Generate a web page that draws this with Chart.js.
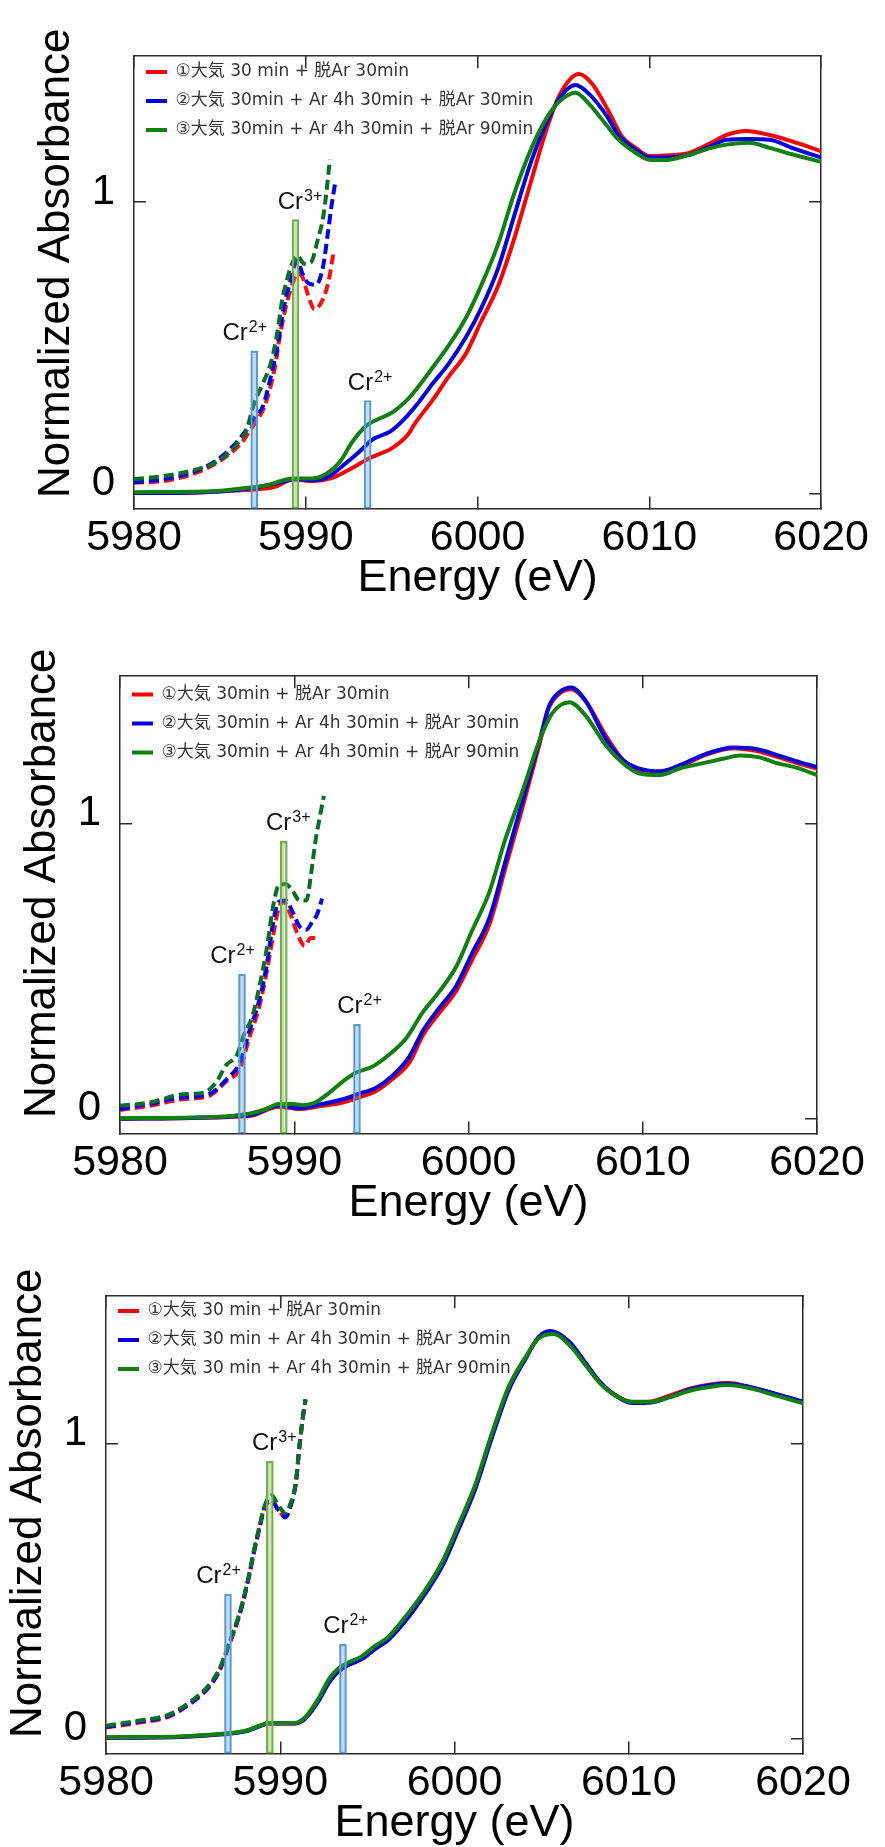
<!DOCTYPE html>
<html>
<head>
<meta charset="utf-8">
<script src="https://cdn.jsdelivr.net/npm/chart.js@4.4.1/dist/chart.umd.min.js"></script>
<style>
  html, body { margin: 0; padding: 0; background: #fff; overflow: hidden; }
  canvas { display: block; position: absolute; left: 0; }
</style>
</head>
<body>
<canvas id="c1" width="885" height="620" style="top:0"></canvas>
<canvas id="c2" width="885" height="620" style="top:620px"></canvas>
<canvas id="c3" width="885" height="620" style="top:1240px"></canvas>
<script>
// axes
const xTicks = [5980, 5990, 6000, 6010, 6020];
const yTicks = [0, 1];

// reference lines (same in all three panels)
const barEnergy = [5987.0, 5989.4, 5993.6];
const barTop = [0.49, 0.94, 0.32];
const barIon = ['2+', '3+', '2+'];

// panel 1
const legend1 = ['①大気 30 min + 脱Ar 30min', '②大気 30min + Ar 4h 30min + 脱Ar 30min', '③大気 30min + Ar 4h 30min + 脱Ar 90min'];
const red1 = [[5980,0.003],[5984,0.006],[5986.5,0.013],[5988.2,0.024],[5989.3,0.05],[5990.4,0.044],[5991.6,0.056],[5992.7,0.089],[5993.7,0.122],[5995,0.156],[5995.9,0.2],[5996.4,0.245],[5997.4,0.323],[5998.3,0.401],[5999.3,0.479],[6000.2,0.59],[6001.2,0.713],[6002.1,0.869],[6003.1,1.069],[6004,1.247],[6004.8,1.37],[6005.9,1.439],[6006.7,1.403],[6007.7,1.303],[6008.4,1.225],[6009.2,1.186],[6010,1.158],[6010.9,1.16],[6012.2,1.167],[6013.6,1.203],[6014.5,1.23],[6015.6,1.244],[6017,1.23],[6018.3,1.208],[6020,1.175]];
const blue1 = [[5980,0.003],[5984,0.006],[5986.5,0.017],[5988.5,0.039],[5989.3,0.05],[5990.6,0.047],[5991.4,0.061],[5992.1,0.094],[5993.1,0.144],[5993.9,0.187],[5995,0.217],[5995.9,0.267],[5996.4,0.301],[5997.4,0.379],[5998.3,0.445],[5999.3,0.535],[6000.2,0.635],[6001.2,0.774],[6002.1,0.947],[6003.1,1.136],[6004,1.27],[6004.8,1.359],[6005.7,1.401],[6006.5,1.37],[6007.5,1.297],[6008.2,1.23],[6009.2,1.18],[6010,1.153],[6010.9,1.153],[6012.2,1.16],[6013.6,1.192],[6014.5,1.214],[6015.8,1.216],[6017,1.214],[6018.3,1.186],[6020,1.153]];
const green1 = [[5980,0.006],[5984.5,0.009],[5986.5,0.02],[5987.8,0.03],[5988.5,0.044],[5989.3,0.053],[5990.4,0.053],[5991.2,0.069],[5992,0.111],[5992.7,0.178],[5993.5,0.233],[5994.2,0.256],[5995,0.278],[5995.9,0.322],[5996.4,0.356],[5997.4,0.434],[5998.3,0.507],[5999.3,0.601],[6000.2,0.713],[6001.2,0.857],[6002.1,1.024],[6003.1,1.18],[6004,1.286],[6004.8,1.347],[6005.7,1.375],[6006.5,1.336],[6007.5,1.264],[6008.2,1.214],[6009.2,1.169],[6010,1.145],[6010.9,1.144],[6012.2,1.16],[6013.6,1.186],[6014.5,1.197],[6015.8,1.203],[6017,1.186],[6018.3,1.164],[6020,1.138]];
const redDash1 = [[5980,0.039],[5981.7,0.044],[5983.6,0.072],[5985.1,0.117],[5986.3,0.178],[5986.8,0.222],[5987.2,0.256],[5987.6,0.3],[5988.2,0.433],[5988.5,0.544],[5988.9,0.656],[5989.3,0.733],[5989.5,0.756],[5989.8,0.744],[5990.15,0.678],[5990.5,0.633],[5990.9,0.656],[5991.3,0.722],[5991.6,0.822]];
const blueDash1 = [[5980,0.039],[5981.7,0.05],[5983.6,0.078],[5985.1,0.128],[5986.3,0.2],[5987,0.261],[5987.5,0.3],[5988,0.411],[5988.35,0.506],[5988.7,0.633],[5989.1,0.728],[5989.5,0.8],[5989.8,0.756],[5990.15,0.722],[5990.6,0.717],[5991,0.778],[5991.3,0.9],[5991.5,0.989],[5991.7,1.061]];
const greenDash1 = [[5980,0.05],[5981.7,0.061],[5983.6,0.083],[5984.7,0.106],[5985.5,0.139],[5986.1,0.178],[5986.5,0.211],[5987,0.311],[5987.5,0.378],[5988,0.456],[5988.35,0.556],[5988.6,0.656],[5988.9,0.733],[5989.2,0.789],[5989.5,0.817],[5989.9,0.789],[5990.3,0.794],[5990.7,0.872],[5991,0.944],[5991.2,1.033],[5991.4,1.146]];

// panel 2
const legend2 = ['①大気 30min + 脱Ar 30min', '②大気 30min + Ar 4h 30min + 脱Ar 30min', '③大気 30min + Ar 4h 30min + 脱Ar 90min'];
const red2 = [[5980,0],[5987.4,0.009],[5989.1,0.041],[5990.3,0.033],[5991.6,0.044],[5992.8,0.055],[5993.7,0.072],[5994.7,0.094],[5995.6,0.133],[5996.6,0.19],[5997.4,0.285],[5998.3,0.357],[5999.3,0.434],[6000.2,0.538],[6001.2,0.659],[6002.1,0.846],[6003.1,1.055],[6004.1,1.275],[6004.6,1.39],[6005.2,1.44],[6005.9,1.456],[6006.7,1.418],[6007.9,1.297],[6008.9,1.214],[6009.8,1.181],[6011,1.17],[6012.1,1.192],[6013.6,1.233],[6015.2,1.256],[6016.5,1.247],[6017.8,1.225],[6019,1.203],[6020,1.187]];
const blue2 = [[5980,0],[5987.4,0.011],[5989.1,0.044],[5990.3,0.036],[5991.6,0.05],[5992.8,0.066],[5993.7,0.085],[5994.7,0.105],[5995.6,0.144],[5996.6,0.21],[5997.4,0.3],[5998.3,0.374],[5999.3,0.451],[6000.2,0.56],[6001.2,0.681],[6002.1,0.868],[6003.1,1.077],[6004.1,1.286],[6004.6,1.396],[6005.2,1.445],[6005.9,1.462],[6006.7,1.418],[6007.9,1.286],[6008.9,1.214],[6009.8,1.187],[6011,1.178],[6012.1,1.198],[6013.6,1.236],[6015.2,1.258],[6016.5,1.253],[6017.8,1.231],[6019,1.209],[6020,1.192]];
const green2 = [[5980,0.002],[5985.3,0.006],[5987.4,0.017],[5988.4,0.033],[5989.1,0.05],[5989.9,0.05],[5990.5,0.046],[5991.2,0.055],[5992,0.088],[5992.8,0.127],[5993.5,0.155],[5994.5,0.177],[5995.4,0.215],[5996.4,0.271],[5997.4,0.363],[5998.3,0.429],[5999.3,0.516],[6000.2,0.637],[6001.2,0.769],[6002.1,0.945],[6003.1,1.11],[6004.1,1.286],[6004.8,1.374],[6005.8,1.412],[6006.7,1.368],[6007.9,1.264],[6008.9,1.203],[6009.8,1.17],[6011,1.165],[6012.1,1.187],[6013.6,1.207],[6014.6,1.22],[6015.6,1.231],[6016.7,1.225],[6017.5,1.209],[6019,1.187],[6020,1.165]];
const redDash2 = [[5980,0.03],[5981.7,0.044],[5983.6,0.066],[5985.1,0.077],[5986.1,0.127],[5986.9,0.171],[5987.4,0.271],[5988,0.381],[5988.4,0.492],[5988.8,0.624],[5989.1,0.713],[5989.4,0.735],[5989.8,0.691],[5990.2,0.624],[5990.6,0.586],[5990.95,0.613],[5991.4,0.613]];
const blueDash2 = [[5980,0.033],[5981.7,0.05],[5983.6,0.072],[5985.1,0.083],[5986.1,0.133],[5986.9,0.193],[5987.4,0.293],[5988,0.403],[5988.4,0.514],[5988.8,0.669],[5989.1,0.735],[5989.5,0.74],[5989.9,0.702],[5990.3,0.652],[5990.7,0.641],[5991.05,0.669],[5991.3,0.691],[5991.6,0.746]];
const greenDash2 = [[5980,0.044],[5981.7,0.055],[5983.6,0.083],[5984.8,0.088],[5985.5,0.122],[5986.1,0.182],[5986.7,0.215],[5987.1,0.282],[5987.6,0.348],[5988,0.448],[5988.4,0.569],[5988.8,0.724],[5989.1,0.79],[5989.5,0.796],[5989.9,0.773],[5990.3,0.74],[5990.7,0.74],[5990.95,0.823],[5991.2,0.934],[5991.5,1.033],[5991.7,1.094]];

// panel 3
const legend3 = ['①大気 30 min + 脱Ar 30min', '②大気 30 min + Ar 4h 30min + 脱Ar 30min', '③大気 30 min + Ar 4h 30min + 脱Ar 90min'];
const red3 = [[5980,0.004],[5984.2,0.007],[5986.5,0.015],[5988,0.026],[5988.8,0.043],[5989.3,0.052],[5990.8,0.052],[5991.4,0.068],[5992.2,0.132],[5992.8,0.195],[5993.3,0.23],[5993.9,0.252],[5994.7,0.272],[5995.4,0.305],[5996.2,0.338],[5997.4,0.42],[5998.3,0.495],[5999.3,0.59],[6000.2,0.71],[6001.2,0.852],[6002.1,1.018],[6003.1,1.185],[6004.1,1.292],[6004.8,1.357],[6005.6,1.378],[6006.6,1.34],[6007.5,1.272],[6008.3,1.21],[6009.2,1.166],[6010.2,1.14],[6011.3,1.143],[6012.3,1.162],[6013.6,1.188],[6014.8,1.202],[6015.7,1.206],[6017.1,1.19],[6018.4,1.168],[6020,1.14]];
const blue3 = [[5980,0.003],[5984.2,0.006],[5986.5,0.014],[5988,0.025],[5988.8,0.042],[5989.3,0.052],[5990.8,0.052],[5991.4,0.066],[5992.2,0.128],[5992.8,0.19],[5993.3,0.226],[5993.9,0.25],[5994.7,0.27],[5995.4,0.302],[5996.2,0.335],[5997.4,0.415],[5998.3,0.49],[5999.3,0.585],[6000.2,0.705],[6001.2,0.848],[6002.1,1.012],[6003.1,1.18],[6004.1,1.29],[6004.8,1.36],[6005.5,1.382],[6006.6,1.345],[6007.5,1.276],[6008.3,1.213],[6009.2,1.165],[6010.2,1.138],[6011.3,1.14],[6012.3,1.158],[6013.6,1.186],[6014.8,1.2],[6015.7,1.203],[6017.1,1.19],[6018.4,1.17],[6020,1.143]];
const green3 = [[5980,0.005],[5984.2,0.008],[5986.5,0.016],[5988,0.027],[5988.8,0.044],[5989.3,0.053],[5990.8,0.053],[5991.4,0.071],[5992.2,0.137],[5992.8,0.203],[5993.3,0.236],[5993.9,0.258],[5994.7,0.28],[5995.4,0.313],[5996.2,0.345],[5997.4,0.43],[5998.3,0.502],[5999.3,0.6],[6000.2,0.721],[6001.2,0.863],[6002.1,1.027],[6003.1,1.192],[6004.1,1.296],[6004.8,1.356],[6005.7,1.372],[6006.6,1.334],[6007.5,1.268],[6008.3,1.208],[6009.2,1.164],[6010.2,1.142],[6011.3,1.142],[6012.3,1.157],[6013.6,1.181],[6014.8,1.194],[6015.7,1.199],[6017.1,1.186],[6018.4,1.164],[6020,1.137]];
const redDash3 = [[5980,0.038],[5981.7,0.053],[5983.6,0.075],[5985.1,0.13],[5985.9,0.174],[5986.5,0.228],[5987,0.308],[5987.4,0.372],[5987.8,0.448],[5988.2,0.548],[5988.5,0.634],[5988.8,0.712],[5989.1,0.782],[5989.5,0.81],[5989.9,0.772],[5990.3,0.755],[5990.6,0.792],[5990.9,0.87],[5991.1,0.99],[5991.3,1.09],[5991.45,1.15]];
const blueDash3 = [[5980,0.04],[5981.7,0.056],[5983.6,0.078],[5985.1,0.132],[5985.9,0.176],[5986.5,0.23],[5987,0.31],[5987.4,0.374],[5987.8,0.45],[5988.2,0.55],[5988.5,0.636],[5988.8,0.714],[5989.1,0.785],[5989.5,0.805],[5989.9,0.775],[5990.3,0.75],[5990.6,0.79],[5990.9,0.868],[5991.1,0.99],[5991.3,1.09],[5991.45,1.15]];
const greenDash3 = [[5980,0.044],[5981.7,0.06],[5983.6,0.082],[5985.1,0.137],[5985.9,0.181],[5986.5,0.236],[5987,0.313],[5987.4,0.378],[5987.8,0.455],[5988.2,0.554],[5988.5,0.641],[5988.8,0.718],[5989.1,0.789],[5989.5,0.825],[5989.9,0.79],[5990.3,0.765],[5990.6,0.8],[5990.9,0.872],[5991.1,0.992],[5991.3,1.09],[5991.45,1.15]];

const lineColors = ['#ff0000', '#0000dd', '#118011'];
const dashColors = ['#ff1010', '#0000ee', '#0a6e26'];
const barFill = ['rgba(91,155,213,0.35)', 'rgba(112,173,71,0.35)', 'rgba(91,155,213,0.35)'];
const barEdge = ['#5b9bd5', '#70ad47', '#5b9bd5'];
const edge = '#2a2a2a';
const labelShift = [-10, 4, 2]; // px, Cr labels are not exactly centred on their bars

Chart.defaults.font.family = '"Liberation Sans", Arial, sans-serif';
Chart.defaults.animation = false;

// Cr labels over the reference lines + rotated y title
const annotate = {
  id: 'annotate',
  afterDatasetsDraw(chart) {
    const { ctx, chartArea, scales } = chart;
    ctx.save();
    ctx.fillStyle = '#111';
    ctx.textAlign = 'left';
    ctx.textBaseline = 'alphabetic';
    barEnergy.forEach((e, i) => {
      const cx = scales.x.getPixelForValue(e) + labelShift[i];
      const top = scales.y.getPixelForValue(barTop[i]);
      ctx.font = '24px "Liberation Sans"';
      const w1 = ctx.measureText('Cr').width;
      ctx.font = '16px "Liberation Sans"';
      const w2 = ctx.measureText(barIon[i]).width;
      const x0 = cx - (w1 + w2) / 2;
      ctx.font = '24px "Liberation Sans"';
      ctx.fillText('Cr', x0, top - 11);
      ctx.font = '16px "Liberation Sans"';
      ctx.fillText(barIon[i], x0 + w1 + 1, top - 19);
    });
    ctx.translate(chartArea.left - 77, chartArea.top + 207);
    ctx.rotate(-Math.PI / 2);
    ctx.font = '44px "Liberation Sans"';
    ctx.fillStyle = '#000';
    ctx.textAlign = 'center';
    ctx.textBaseline = 'middle';
    ctx.fillText('Normalized Absorbance', 0, 0);
    ctx.restore();
  }
};

function frameAxis(position, values, min, max, size) {
  const horizontal = position === 'top' || position === 'bottom';
  return {
    type: 'linear',
    position: position,
    min: min,
    max: max,
    offset: false,
    afterBuildTicks: a => { a.ticks = values.map(v => ({ value: v })); },
    afterFit: a => { if (horizontal) a.height = size; else a.width = size; },
    grid: { drawOnChartArea: false, offset: false, tickLength: -12, color: edge, lineWidth: 1.5 },
    border: { color: edge, width: 1.5 },
    ticks: { display: false }
  };
}

function makeChart(id, names, solid, dashed, area) {
  const datasets = [];
  solid.forEach((d, i) => datasets.push({
    label: names[i], data: d, borderColor: lineColors[i], backgroundColor: lineColors[i],
    borderWidth: 4, pointRadius: 0, cubicInterpolationMode: 'monotone', order: 3 - i
  }));
  dashed.forEach((d, i) => datasets.push({
    data: d, borderColor: dashColors[i], backgroundColor: dashColors[i],
    borderWidth: 4, borderDash: [10, 5], pointRadius: 0, cubicInterpolationMode: 'monotone', order: 3 - i
  }));
  datasets.push({
    type: 'bar',
    data: barEnergy.map((e, i) => ({ x: e, y: [-0.05, barTop[i]] })),
    backgroundColor: barFill, borderColor: barEdge, borderWidth: 1.5,
    borderSkipped: false, barThickness: 7, order: 0
  });

  const x = frameAxis('bottom', xTicks, 5980, 6020, 100);
  x.ticks = { display: true, color: '#000', font: { size: 43 }, padding: 16, maxRotation: 0, autoSkip: false, callback: v => String(v) };
  x.title = { display: true, text: 'Energy (eV)', color: '#000', font: { size: 45 }, padding: { top: 0, bottom: 3 } };
  const y = frameAxis('left', yTicks, -0.05, 1.5, area.left);
  y.ticks = { display: true, color: '#000', font: { size: 42 }, padding: 31, labelOffset: -10, callback: v => String(v) };

  return new Chart(document.getElementById(id), {
    type: 'line',
    data: { datasets: datasets },
    options: {
      responsive: false,
      layout: { padding: { left: 0, right: 885 - area.right, top: area.top, bottom: 620 - area.bottom - 100 } },
      scales: {
        x: x,
        x2: frameAxis('top', xTicks, 5980, 6020, 0),
        y: y,
        y2: frameAxis('right', yTicks, -0.05, 1.5, 0)
      },
      plugins: {
        tooltip: { enabled: false },
        legend: {
          position: 'chartArea',
          align: 'start',
          // a vertical legend starts at the canvas top, so the empty title pushes it into the plot
          title: { display: true, text: '', font: { size: 5 }, padding: { top: 0, bottom: area.top + 2 } },
          labels: {
            filter: item => !!item.text,
            sort: (a, b) => a.datasetIndex - b.datasetIndex,
            usePointStyle: true,
            pointStyle: 'line',
            pointStyleWidth: 21,
            padding: 12,
            color: '#333',
            font: { family: '"DejaVu Sans", "Noto Sans CJK JP", sans-serif', size: 17 }
          }
        }
      }
    },
    plugins: [annotate]
  });
}

makeChart('c1', legend1, [red1, blue1, green1], [redDash1, blueDash1, greenDash1], { left: 134, right: 833, top: 43.5, bottom: 508.5 });
makeChart('c2', legend2, [red2, blue2, green2], [redDash2, blueDash2, greenDash2], { left: 120, right: 817, top: 46, bottom: 513.5 });
makeChart('c3', legend3, [red3, blue3, green3], [redDash3, blueDash3, greenDash3], { left: 106, right: 803, top: 42.5, bottom: 513.5 });
</script>
</body>
</html>
